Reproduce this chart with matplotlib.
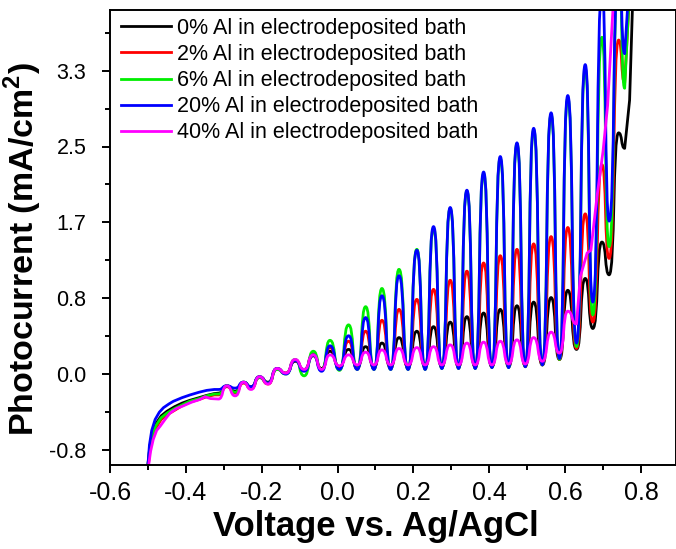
import numpy as np
import matplotlib
matplotlib.use("Agg")
import matplotlib.pyplot as plt
from matplotlib.path import Path
from matplotlib.patches import PathPatch
from matplotlib.lines import Line2D
from matplotlib.ticker import MultipleLocator, FixedLocator, FormatStrFormatter

plt.rcParams['font.family'] = ['Liberation Sans', 'DejaVu Sans']
plt.rcParams['mathtext.fontset'] = 'custom'
plt.rcParams['mathtext.bf'] = 'Liberation Sans:bold'
plt.rcParams['mathtext.rm'] = 'Liberation Sans'

labels = ["0% Al in electrodeposited bath", "2% Al in electrodeposited bath",
          "6% Al in electrodeposited bath", "20% Al in electrodeposited bath",
          "40% Al in electrodeposited bath"]
colors = ["#000000", "#ff0000", "#00ee00", "#0000ff", "#ff00ff"]

# voltage of light-on peaks and of the dark troughs after each peak (V vs Ag/AgCl)
peak_v = [-0.292, -0.248, -0.206, -0.160, -0.112, -0.064, -0.020, 0.029, 0.074, 0.117,
          0.162, 0.209, 0.253, 0.297, 0.341, 0.385, 0.429, 0.473, 0.517, 0.563,
          0.607, 0.653, 0.697, 0.741]
trough_v = [-0.270, -0.228, -0.183, -0.136, -0.088, -0.042, 0.005, 0.052, 0.096, 0.140,
            0.186, 0.231, 0.275, 0.319, 0.363, 0.407, 0.451, 0.495, 0.540, 0.585,
            0.630, 0.673, 0.716, 0.757]

# initial dark sweep (before chopping becomes visible)
lead_v_0 = [-0.500, -0.495, -0.488, -0.478, -0.465, -0.450, -0.430, -0.410, -0.390, -0.365, -0.345, -0.325, -0.314]
lead_i_0 = [-1.00, -0.80, -0.64, -0.54, -0.46, -0.41, -0.36, -0.32, -0.29, -0.26, -0.235, -0.215, -0.21]
lead_v_2 = [-0.499, -0.494, -0.487, -0.477, -0.465, -0.450, -0.430, -0.410, -0.390, -0.365, -0.345, -0.325, -0.314]
lead_i_2 = [-1.00, -0.82, -0.68, -0.58, -0.50, -0.45, -0.40, -0.35, -0.31, -0.28, -0.25, -0.23, -0.23]
lead_v_6 = [-0.500, -0.495, -0.488, -0.478, -0.465, -0.450, -0.430, -0.410, -0.390, -0.365, -0.345, -0.325, -0.314]
lead_i_6 = [-1.00, -0.81, -0.66, -0.56, -0.48, -0.43, -0.38, -0.34, -0.30, -0.27, -0.24, -0.22, -0.22]
lead_v_20 = [-0.500, -0.496, -0.490, -0.481, -0.470, -0.459, -0.445, -0.433, -0.410, -0.389, -0.365, -0.345, -0.325, -0.314]
lead_i_20 = [-1.00, -0.78, -0.62, -0.50, -0.42, -0.37, -0.33, -0.30, -0.26, -0.23, -0.20, -0.18, -0.17, -0.17]
lead_v_40 = [-0.498, -0.493, -0.486, -0.477, -0.468, -0.455, -0.442, -0.425, -0.407, -0.385, -0.363, -0.350, -0.335, -0.314]
lead_i_40 = [-1.00, -0.85, -0.72, -0.62, -0.575, -0.50, -0.43, -0.38, -0.35, -0.31, -0.28, -0.25, -0.27, -0.275]

# photocurrent at each peak / following trough (mA/cm2)
peak_i_0 = [-0.13, -0.09, -0.03, 0.06, 0.14, 0.20, 0.25, 0.27, 0.30, 0.34, 0.40, 0.47, 0.52, 0.57, 0.63, 0.67,
            0.71, 0.75, 0.79, 0.84, 0.92, 1.05, 1.45, 2.65]
trough_i_0 = [-0.19, -0.14, -0.09, 0.01, 0.05, 0.06, 0.08, 0.08, 0.08, 0.08, 0.08, 0.08, 0.08, 0.08, 0.08, 0.08,
              0.08, 0.09, 0.10, 0.16, 0.27, 0.50, 1.09, 2.48]
peak_i_2 = [-0.14, -0.10, -0.04, 0.05, 0.15, 0.22, 0.29, 0.36, 0.47, 0.59, 0.71, 0.82, 0.93, 1.03, 1.13, 1.22,
            1.30, 1.37, 1.43, 1.51, 1.61, 1.76, 2.30, 3.67]
trough_i_2 = [-0.21, -0.16, -0.11, 0.01, 0.04, 0.05, 0.06, 0.06, 0.06, 0.06, 0.06, 0.07, 0.07, 0.07, 0.07, 0.08,
              0.08, 0.08, 0.10, 0.16, 0.28, 0.57, 1.27, 3.20]
peak_i_6 = [-0.13, -0.09, -0.04, 0.05, 0.16, 0.25, 0.37, 0.54, 0.74, 0.94, 1.15, 1.37, 1.60, 1.82, 2.01, 2.20,
            2.37, 2.53, 2.68, 2.85, 3.03, 3.35, 3.70, 4.50]
trough_i_6 = [-0.20, -0.15, -0.10, 0.00, -0.02, 0.04, 0.04, 0.05, 0.05, 0.05, 0.05, 0.05, 0.06, 0.06, 0.06, 0.07,
              0.07, 0.08, 0.10, 0.16, 0.30, 0.65, 1.40, 3.14]
peak_i_20 = [-0.13, -0.09, -0.03, 0.06, 0.15, 0.21, 0.31, 0.42, 0.62, 0.86, 1.08, 1.36, 1.62, 1.83, 2.02, 2.22,
             2.39, 2.54, 2.70, 2.87, 3.06, 3.40, 4.20, 4.50]
trough_i_20 = [-0.155, -0.14, -0.10, 0.00, 0.03, 0.03, 0.05, 0.05, 0.05, 0.05, 0.05, 0.05, 0.06, 0.06, 0.06, 0.07,
               0.07, 0.08, 0.10, 0.17, 0.34, 0.79, 1.68, 3.52]
peak_i_40 = [-0.13, -0.09, -0.03, 0.06, 0.16, 0.21, 0.21, 0.21, 0.24, 0.265, 0.28, 0.29, 0.30, 0.32, 0.34, 0.35,
             0.36, 0.375, 0.40, 0.46, 0.69]
trough_i_40 = [-0.24, -0.17, -0.11, 0.01, 0.05, 0.05, 0.09, 0.10, 0.10, 0.10, 0.10, 0.10, 0.10, 0.10, 0.10, 0.10,
               0.11, 0.11, 0.14, 0.23, 0.55]

# final steep rise
tail_v_0 = [0.770, 0.781]
tail_i_0 = [3.01, 4.50]
tail_v_2 = [0.774]
tail_i_2 = [4.50]
tail_v_6 = [0.773]
tail_i_6 = [4.50]
tail_v_20 = [0.772]
tail_i_20 = [4.50]
tail_v_40 = [0.640, 0.658, 0.668, 0.684, 0.700, 0.712, 0.730]
tail_i_40 = [1.07, 1.33, 1.36, 1.95, 2.45, 2.95, 4.30]

series = [
    (lead_v_0, lead_i_0, peak_i_0, trough_i_0, tail_v_0, tail_i_0),
    (lead_v_2, lead_i_2, peak_i_2, trough_i_2, tail_v_2, tail_i_2),
    (lead_v_6, lead_i_6, peak_i_6, trough_i_6, tail_v_6, tail_i_6),
    (lead_v_20, lead_i_20, peak_i_20, trough_i_20, tail_v_20, tail_i_20),
    (lead_v_40, lead_i_40, peak_i_40, trough_i_40, tail_v_40, tail_i_40),
]


def build_path(lead_v, lead_i, pk_i, tr_i, tail_v, tail_i, a=0.62):
    verts = [(lead_v[0], lead_i[0])]
    codes = [Path.MOVETO]
    for v, i in zip(lead_v[1:], lead_i[1:]):
        verts.append((v, i))
        codes.append(Path.LINETO)
    osc = []
    for k in range(len(pk_i)):
        osc.append((peak_v[k], pk_i[k]))
        osc.append((trough_v[k], tr_i[k]))
    x0, y0 = verts[-1]
    for v, i in osc:
        d = v - x0
        verts += [(x0 + a * d, y0), (v - a * d, i), (v, i)]
        codes += [Path.CURVE4] * 3
        x0, y0 = v, i
    for v, i in zip(tail_v, tail_i):
        verts.append((v, i))
        codes.append(Path.LINETO)
    return Path(verts, codes)


fig = plt.figure(figsize=(6.76, 5.49), dpi=100)
ax = fig.add_axes([110 / 676, 1 - 465 / 549, 565.5 / 676, 455 / 549])

for (lv, li, pk, tr, tv, ti), c in zip(series, colors):
    p = build_path(lv, li, pk, tr, tv, ti)
    ax.add_patch(PathPatch(p, facecolor='none', edgecolor=c, lw=2.0,
                           joinstyle='round', capstyle='round'))

ax.set_xlim(-0.6, 0.891)
ax.set_ylim(-1.0, 4.0)

ax.xaxis.set_major_locator(MultipleLocator(0.2))
ax.xaxis.set_minor_locator(MultipleLocator(0.1))
ax.xaxis.set_major_formatter(FormatStrFormatter('%.1f'))
ax.yaxis.set_major_locator(FixedLocator([k * 5 / 6 for k in range(-1, 5)]))
ax.yaxis.set_minor_locator(FixedLocator([k * 5 / 6 + 5 / 12 for k in range(-2, 5)]))
ax.yaxis.set_major_formatter(FormatStrFormatter('%.1f'))

ax.tick_params(which='both', direction='out', width=1.4, top=False, right=False)
ax.tick_params(which='major', length=6)
ax.tick_params(which='minor', length=3.5)
ax.tick_params(axis='x', which='major', labelsize=18, pad=5.5)
ax.tick_params(axis='y', which='major', labelsize=15.5, pad=11)
for s in ax.spines.values():
    s.set_linewidth(1.4)

ax.set_xlabel('Voltage vs. Ag/AgCl', fontsize=25, fontweight='bold')
ax.xaxis.set_label_coords(0.47, -0.099)
ax.set_ylabel(r'Photocurrent (mA/cm$^\mathbf{2}$)', fontsize=24.5, fontweight='bold')
ax.yaxis.set_label_coords(-0.117, 0.475)

handles = [Line2D([], [], color=c, lw=2.0) for c in colors]
ax.legend(handles, labels, loc='upper left', bbox_to_anchor=(0.0195, 0.983),
          frameon=False, fontsize=15.5, handlelength=2.3, handletextpad=0.3,
          labelspacing=0.24, borderpad=0, borderaxespad=0)

fig.savefig('out.png', dpi=100)
